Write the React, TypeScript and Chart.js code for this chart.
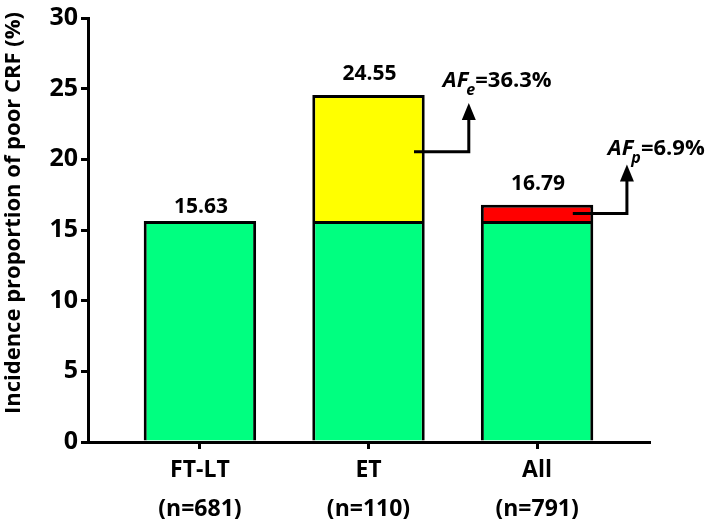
import React, { useEffect, useRef } from "react";
import { Chart, registerables } from "chart.js";

Chart.register(...registerables);

const categories = ["FT-LT", "ET", "All"];
const sampleSizes = ["(n=681)", "(n=110)", "(n=791)"];
const xPositions = [1, 2, 3];
const baseValues = [15.63, 15.63, 15.63];
const excessValues = [null, 8.92, 1.16];
const totalValues = [15.63, 24.55, 16.79];
const totalLabels = ["15.63", "24.55", "16.79"];
const yTicks = [0, 5, 10, 15, 20, 25, 30];
const yTitle = "Incidence proportion of poor CRF (%)";
const afSubs = ["e", "p"];
const afTexts = ["=36.3%", "=6.9%"];

const FONT = "'Open Sans', Lato, 'DejaVu Sans', sans-serif";

// annotation geometry in data units
const arrows = [
  { fromX: 2.27, toX: 2.595, y: 20.53, tipY: 23.99, textX: 2.441, textY: 25.09 },
  { fromX: 3.212, toX: 3.533, y: 16.17, tipY: 19.63, textX: 3.42, textY: 20.32 },
];
const labelOffsets = [8, 15, 15];

const overlayPlugin = {
  id: "overlay",
  afterDatasetsDraw(chart: any) {
    const ctx = chart.ctx;
    const xs = chart.scales.x;
    const ys = chart.scales.y;
    ctx.save();
    // value labels
    ctx.fillStyle = "#000";
    ctx.textAlign = "center";
    ctx.textBaseline = "alphabetic";
    ctx.font = `bold 21px ${FONT}`;
    totalValues.forEach((v, i) => {
      const px = xs.getPixelForValue(xPositions[i]);
      const py = ys.getPixelForValue(v) - labelOffsets[i];
      ctx.fillText(totalLabels[i], px + 1, py);
    });
    // arrows
    arrows.forEach((a, i) => {
      const x0 = xs.getPixelForValue(a.fromX);
      const x1 = xs.getPixelForValue(a.toX);
      const y0 = ys.getPixelForValue(a.y);
      const yt = ys.getPixelForValue(a.tipY);
      const headH = 17;
      const headW = 14;
      ctx.strokeStyle = "#000";
      ctx.lineWidth = 3;
      ctx.lineJoin = "miter";
      ctx.beginPath();
      ctx.moveTo(x0, y0);
      ctx.lineTo(x1, y0);
      ctx.lineTo(x1, yt + headH - 1);
      ctx.stroke();
      ctx.beginPath();
      ctx.moveTo(x1, yt);
      ctx.lineTo(x1 - headW / 2, yt + headH);
      ctx.lineTo(x1 + headW / 2, yt + headH);
      ctx.closePath();
      ctx.fillStyle = "#000";
      ctx.fill();
      // text
      const tx = xs.getPixelForValue(a.textX);
      const ty = ys.getPixelForValue(a.textY);
      ctx.textAlign = "left";
      ctx.font = `italic bold 22px ${FONT}`;
      ctx.fillText("AF", tx, ty);
      let cx = tx + ctx.measureText("AF").width - 2;
      ctx.font = `italic bold 16px ${FONT}`;
      ctx.fillText(afSubs[i], cx, ty + 8);
      cx += ctx.measureText(afSubs[i]).width;
      ctx.font = `bold 22px ${FONT}`;
      ctx.fillText(afTexts[i], cx, ty);
    });
    // y title
    ctx.font = `bold 22px ${FONT}`;
    ctx.textAlign = "center";
    ctx.textBaseline = "middle";
    ctx.translate(14, 213);
    ctx.rotate(-Math.PI / 2);
    ctx.fillText(yTitle, 0, 0);
    ctx.restore();
  },
};

export default function App() {
  const ref = useRef<HTMLCanvasElement | null>(null);
  useEffect(() => {
    if (!ref.current) return;
    const chart = new Chart(ref.current, {
      type: "bar",
      data: {
        datasets: [
          {
            label: "base",
            data: xPositions.map((x, i) => ({ x, y: baseValues[i] })),
            backgroundColor: "#00FF80",
            borderColor: "#000",
            borderWidth: 3,
            borderSkipped: "start",
            categoryPercentage: 1,
            barPercentage: 0.667,
          },
          {
            label: "excess",
            data: xPositions.map((x, i) => ({ x, y: excessValues[i] })),
            backgroundColor: ["#00FF80", "#FFFF00", "#FF0000"],
            borderColor: "#000",
            borderWidth: 3,
            borderSkipped: "start",
            categoryPercentage: 1,
            barPercentage: 0.667,
          },
        ],
      },
      options: {
        animation: false,
        responsive: false,
        maintainAspectRatio: false,
        layout: { padding: { top: 8, right: 60, bottom: 0, left: 0 } },
        plugins: {
          legend: { display: false },
          tooltip: { enabled: false },
        },
        scales: {
          x: {
            type: "linear",
            stacked: true,
            offset: false,
            min: 0.336,
            max: 3.664,
            afterBuildTicks: (scale: any) => {
              scale.ticks = xPositions.map((v) => ({ value: v }));
            },
            afterFit: (scale: any) => {
              scale.height = 77;
            },
            ticks: {
              autoSkip: false,
              maxRotation: 0,
              color: "#000",
              padding: 2,
              font: { family: FONT, size: 23, weight: "bold", lineHeight: 1.68 },
              callback: (_v: any, i: number) => [categories[i], sampleSizes[i]],
            },
            grid: {
              display: true,
              drawOnChartArea: false,
              drawTicks: true,
              tickLength: 7,
              color: "#000",
              lineWidth: 3,
              offset: false,
            },
            border: { display: true, color: "#000", width: 3 },
          },
          y: {
            stacked: true,
            min: 0,
            max: 30,
            afterBuildTicks: (scale: any) => {
              scale.ticks = yTicks.map((v) => ({ value: v }));
            },
            afterFit: (scale: any) => {
              scale.width = 88;
            },
            ticks: {
              color: "#000",
              padding: 3,
              font: { family: FONT, size: 25, weight: "bold" },
            },
            grid: {
              display: true,
              drawOnChartArea: false,
              drawTicks: true,
              tickLength: 7,
              color: "#000",
              lineWidth: 3,
            },
            border: { display: true, color: "#000", width: 3 },
          },
        },
      },
      plugins: [overlayPlugin],
    } as any);
    return () => chart.destroy();
  }, []);
  return (
    <div style={{ position: "absolute", left: 0, top: 0, width: 709, height: 519, background: "#fff" }}>
      <canvas ref={ref} width={709} height={519} style={{ width: 709, height: 519, display: "block" }} />
    </div>
  );
}
